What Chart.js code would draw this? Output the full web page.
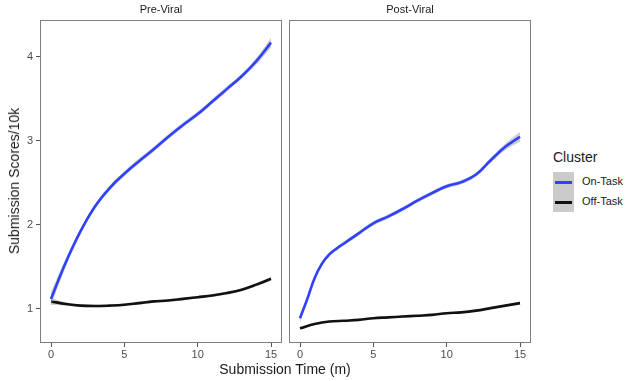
<!DOCTYPE html>
<html>
<head>
<meta charset="utf-8">
<script src="https://cdn.jsdelivr.net/npm/chart.js@4.4.1/dist/chart.umd.min.js"></script>
<style>
  body { margin: 0; background: #fff; font-family: "Liberation Sans", Arial, sans-serif; }
  #wrap { position: relative; width: 627px; height: 381px; overflow: hidden; }
  .box { position: absolute; }
  .txt { position: absolute; color: #1a1a1a; white-space: nowrap; }
  .strip { font-size: 11px; top: 3px; transform: translateX(-50%); }
  .key { position: absolute; left: 553px; width: 21px; height: 20px; background: #cbcbcb; }
  .key span { position: absolute; left: 2px; right: 2px; top: 9px; height: 3px; }
</style>
</head>
<body>
<div id="wrap">
  <div class="box" style="left:0;top:0;width:290px;height:381px"><canvas id="pre"></canvas></div>
  <div class="box" style="left:285px;top:0;width:254px;height:381px"><canvas id="post"></canvas></div>
  <div class="txt strip" style="left:161px">Pre-Viral</div>
  <div class="txt strip" style="left:410px">Post-Viral</div>
  <div class="txt" style="left:14px;top:181px;font-size:14px;transform:translate(-50%,-50%) rotate(-90deg)">Submission Scores/10k</div>
  <div class="txt" style="left:285px;top:361px;font-size:14px;transform:translateX(-50%)">Submission Time (m)</div>
  <div class="txt" style="left:553px;top:149px;font-size:14px">Cluster</div>
  <div class="key" style="top:172px"><span style="background:#3040ff"></span></div>
  <div class="key" style="top:192px"><span style="background:#111"></span></div>
  <div class="txt" style="left:582px;top:175px;font-size:11px">On-Task</div>
  <div class="txt" style="left:582px;top:195px;font-size:11px">Off-Task</div>
</div>
<script>
// Pre-Viral panel
const preX = [0, 1, 2, 3, 4, 5, 6, 7, 8, 9, 10, 11, 12, 13, 14, 15];
const preOn = [1.12, 1.55, 1.92, 2.22, 2.44, 2.61, 2.76, 2.9, 3.05, 3.19, 3.32, 3.47, 3.62, 3.77, 3.95, 4.17];
const preOnSe = [0.08, 0.05, 0.03, 0.03, 0.03, 0.03, 0.03, 0.03, 0.03, 0.03, 0.03, 0.03, 0.03, 0.03, 0.04, 0.06];
const preOff = [1.09, 1.06, 1.04, 1.035, 1.04, 1.05, 1.07, 1.09, 1.1, 1.12, 1.14, 1.16, 1.19, 1.23, 1.29, 1.36];
const preOffSe = [0.04, 0.02, 0.015, 0.015, 0.015, 0.015, 0.015, 0.015, 0.015, 0.015, 0.015, 0.015, 0.015, 0.015, 0.02, 0.025];

// Post-Viral panel
const postOnX = [0, 0.5, 1, 1.5, 2, 2.5, 3, 4, 5, 6, 7, 8, 9, 10, 11, 12, 13, 14, 15];
const postOn = [0.89, 1.12, 1.37, 1.54, 1.65, 1.72, 1.78, 1.9, 2.02, 2.1, 2.19, 2.29, 2.38, 2.46, 2.51, 2.6, 2.77, 2.93, 3.05];
const postOnSe = [0.05, 0.04, 0.03, 0.03, 0.025, 0.025, 0.025, 0.025, 0.025, 0.025, 0.025, 0.025, 0.025, 0.025, 0.025, 0.025, 0.03, 0.04, 0.06];
const postOffX = [0, 1, 2, 3, 4, 5, 6, 7, 8, 9, 10, 11, 12, 13, 14, 15];
const postOff = [0.77, 0.82, 0.85, 0.86, 0.87, 0.89, 0.9, 0.91, 0.92, 0.93, 0.95, 0.96, 0.98, 1.01, 1.04, 1.07];
const postOffSe = [0.02, 0.012, 0.01, 0.01, 0.01, 0.01, 0.01, 0.01, 0.01, 0.01, 0.01, 0.01, 0.01, 0.01, 0.012, 0.02];

const xTicks = [0, 5, 10, 15];
const yTicks = [1, 2, 3, 4];

const blue = '#3040ff', black = '#111111', band = 'rgba(150,150,150,0.45)';

function pts(xs, ys, off, sign) {
  return xs.map((x, i) => ({ x: x, y: ys[i] + (off ? sign * off[i] : 0) }));
}

// bands drawn underneath (higher order), line on top
function series(xs, ys, se, color, lvl) {
  return [
    { data: pts(xs, ys, se, -1), borderWidth: 0, pointRadius: 0, fill: false, tension: 0.4, order: lvl + 1 },
    { data: pts(xs, ys, se, 1), borderWidth: 0, pointRadius: 0, fill: '-1', backgroundColor: band, tension: 0.4, order: lvl + 1 },
    { data: pts(xs, ys), borderColor: color, borderWidth: 2.6, pointRadius: 0, fill: false, tension: 0.4, order: lvl }
  ];
}

const framePlugin = {
  id: 'frame',
  afterDraw(chart) {
    const a = chart.chartArea, ctx = chart.ctx;
    ctx.save();
    ctx.strokeStyle = '#7f7f7f';
    ctx.lineWidth = 1;
    ctx.strokeRect(Math.round(a.left) + 0.5, Math.round(a.top) + 0.5, Math.round(a.right - a.left) - 1, Math.round(a.bottom - a.top) - 1);
    ctx.restore();
  }
};

function panel(id, datasets, showY) {
  new Chart(document.getElementById(id), {
    type: 'line',
    data: { datasets: datasets },
    options: {
      responsive: true,
      maintainAspectRatio: false,
      animation: false,
      layout: { padding: { top: 20, right: 8, left: 0, bottom: 0 } },
      plugins: { legend: { display: false }, tooltip: { enabled: false } },
      scales: {
        x: {
          type: 'linear', min: -0.75, max: 15.75,
          afterBuildTicks: s => { s.ticks = xTicks.map(v => ({ value: v })); },
          afterFit: s => { s.height = 38; },
          grid: { display: true, drawOnChartArea: false, tickLength: 4, tickColor: '#555' },
          border: { display: false },
          ticks: { color: '#4d4d4d', font: { size: 11, family: 'Liberation Sans' }, padding: 1, maxRotation: 0 }
        },
        y: {
          type: 'linear', min: 0.595, max: 4.44,
          afterBuildTicks: s => { s.ticks = yTicks.map(v => ({ value: v })); },
          afterFit: s => { s.width = showY ? 40 : 4; },
          grid: { display: showY, drawOnChartArea: false, tickLength: 4, tickColor: '#555' },
          border: { display: false },
          ticks: { display: showY, color: '#4d4d4d', font: { size: 11, family: 'Liberation Sans' }, padding: 3 }
        }
      }
    },
    plugins: [framePlugin]
  });
}

panel('pre', [].concat(series(preX, preOff, preOffSe, black, 2), series(preX, preOn, preOnSe, blue, 0)), true);
panel('post', [].concat(series(postOffX, postOff, postOffSe, black, 2), series(postOnX, postOn, postOnSe, blue, 0)), false);
</script>
</body>
</html>
